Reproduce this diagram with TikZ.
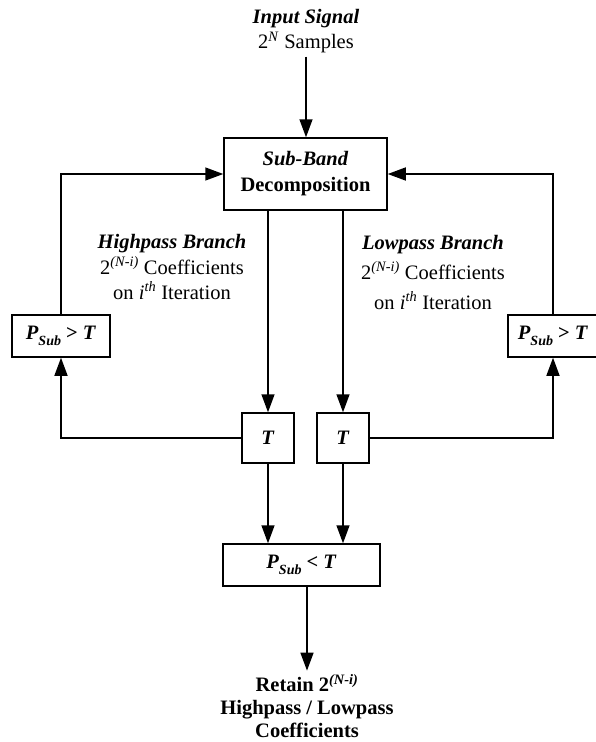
\documentclass[tikz,border=0pt]{standalone}
\usepackage{fontspec}
\setmainfont{Liberation Serif}
\usetikzlibrary{arrows.meta, positioning}
\newcommand*{\psub}{\textit{P}\raisebox{-0.6ex}{\fontsize{14}{14}\selectfont\textit{Sub}}}

\begin{document}
\begin{tikzpicture}[x=1pt, y=-1pt,
  blk/.style={draw, line width=1.5pt, inner sep=0pt, align=center,
    font=\fontsize{20.5}{26}\selectfont\bfseries},
  lbl/.style={align=center, font=\fontsize{20.5}{25.5}\selectfont},
  flow/.style={line width=1.5pt, -{Triangle[length=18pt, width=13pt]}}]
 \useasboundingbox (0,0) rectangle (596,742);
 \node[lbl] (input) at (306,31) {\textbf{\textit{Input Signal}}\\2\textsuperscript{\textit{N}} Samples};
 \node[blk, minimum width=163pt, minimum height=72pt] (sbd) at (305.5,174) {\textit{Sub-Band}\\Decomposition};
 \node[lbl] (hp) at (172,267) {\textbf{\textit{Highpass Branch}}\\2\textsuperscript{\textit{(N-i)}} Coefficients\\on \textit{i}\textsuperscript{\textit{th}} Iteration};
 \node[lbl, font=\fontsize{20.5}{30}\selectfont] (lp) at (433,272) {\textbf{\textit{Lowpass Branch}}\\2\textsuperscript{\textit{(N-i)}} Coefficients\\on \textit{i}\textsuperscript{\textit{th}} Iteration};
 \node[blk, minimum width=98pt, minimum height=42pt] (pl) at (61,336) {\psub{} > \textit{T}};
 \node[blk, minimum width=90pt, minimum height=42pt] (pr) at (553,336) {\psub{} > \textit{T}};
 \node[blk, minimum width=52pt, minimum height=50pt] (tl) at (268,438) {\textit{T}};
 \node[blk, minimum width=52pt, minimum height=50pt] (tr) at (343,438) {\textit{T}};
 \node[blk, minimum width=157pt, minimum height=42pt] (pc) at (301.5,565) {\psub{} < \textit{T}};
 \node[lbl, font=\fontsize{20.5}{23}\selectfont\bfseries] (retain) at (307,706) {Retain 2\textsuperscript{\textit{(N-i)}}\\Highpass / Lowpass\\Coefficients};
 \draw[flow] (input.south) -- (input.south |- sbd.north);
 \draw[flow] (sbd.south -| tl) -- (tl);
 \draw[flow] (sbd.south -| tr) -- (tr);
 \draw[flow] (tl.west) -| (pl.south);
 \draw[flow] (pl.north) |- (sbd.west);
 \draw[flow] (tr.east) -| (pr.south);
 \draw[flow] (pr.north) |- (sbd.east);
 \draw[flow] (tl.south) -- (tl.south |- pc.north);
 \draw[flow] (tr.south) -- (tr.south |- pc.north);
 \draw[flow] (pc.south -| retain.north) -- (retain.north);
\end{tikzpicture}
\end{document}
